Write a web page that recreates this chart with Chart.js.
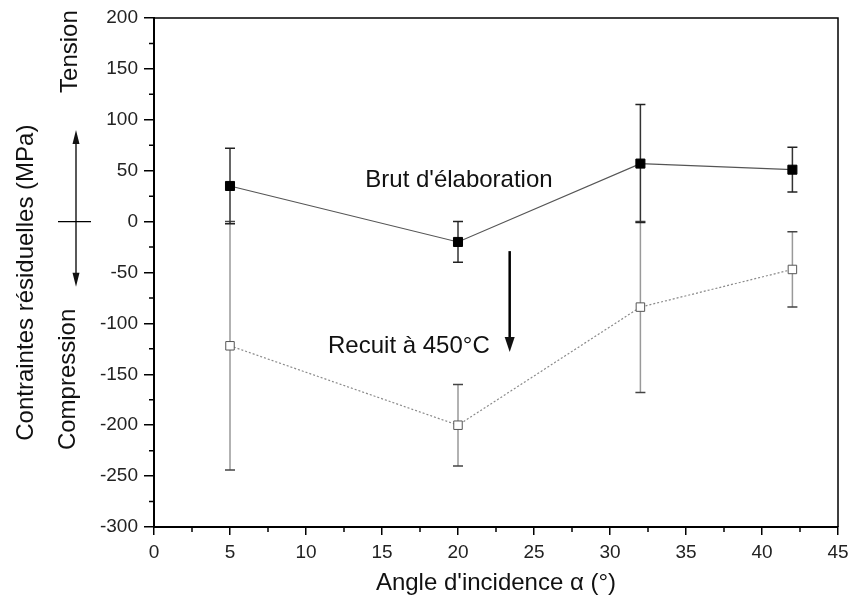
<!DOCTYPE html>
<html>
<head>
<meta charset="utf-8">
<script src="https://cdn.jsdelivr.net/npm/chart.js@4/dist/chart.umd.min.js"></script>
<style>
  html, body { margin: 0; padding: 0; background: #fff; }
  #wrap { width: 855px; height: 608px; }
</style>
</head>
<body>
<div id="wrap"><canvas id="stressChart" width="855" height="608"></canvas></div>
<script>
// data
const angles = [5, 20, 32, 42];
const brut = [35, -20, 57, 51];
const brutErr = [37, 20, 58, 22];
const recuit = [-122, -200, -84, -47];
const recuitErr = [122, 40, 84, 37];
const xTicks = [0, 5, 10, 15, 20, 25, 30, 35, 40, 45];
const yTicks = [-300, -250, -200, -150, -100, -50, 0, 50, 100, 150, 200];

const FONT = "'Liberation Sans', Arial, sans-serif";

function points(xs, ys) {
    return xs.map((x, i) => ({ x: x, y: ys[i] }));
}

// error bars, minor ticks, frame and the text annotations
const decorations = {
    id: 'decorations',
    beforeDatasetsDraw(chart) {
        const ctx = chart.ctx;
        const xs = chart.scales.x;
        const ys = chart.scales.y;
        const bars = [
            { vals: recuit, err: recuitErr, line: '#999', cap: '#444' },
            { vals: brut, err: brutErr, line: '#333', cap: '#222' }
        ];
        ctx.save();
        bars.forEach(b => {
            angles.forEach((a, i) => {
                const px = xs.getPixelForValue(a);
                const top = ys.getPixelForValue(b.vals[i] + b.err[i]);
                const bot = ys.getPixelForValue(b.vals[i] - b.err[i]);
                ctx.strokeStyle = b.line;
                ctx.lineWidth = 1.5;
                ctx.beginPath();
                ctx.moveTo(px, top);
                ctx.lineTo(px, bot);
                ctx.stroke();
                ctx.strokeStyle = b.cap;
                ctx.beginPath();
                ctx.moveTo(px - 5, top);
                ctx.lineTo(px + 5, top);
                ctx.moveTo(px - 5, bot);
                ctx.lineTo(px + 5, bot);
                ctx.stroke();
            });
        });
        ctx.restore();
    },
    afterDraw(chart) {
        const ctx = chart.ctx;
        const area = chart.chartArea;
        const xs = chart.scales.x;
        const ys = chart.scales.y;
        ctx.save();

        // frame top/right
        ctx.strokeStyle = '#000';
        ctx.lineWidth = 1.5;
        ctx.beginPath();
        ctx.moveTo(area.left, area.top);
        ctx.lineTo(area.right, area.top);
        ctx.lineTo(area.right, area.bottom);
        ctx.stroke();

        // minor ticks
        ctx.lineWidth = 1.5;
        ctx.beginPath();
        for (let v = 2.5; v < 45; v += 5) {
            const px = xs.getPixelForValue(v);
            ctx.moveTo(px, area.bottom);
            ctx.lineTo(px, area.bottom + 5);
        }
        for (let v = -275; v < 200; v += 50) {
            const py = ys.getPixelForValue(v);
            ctx.moveTo(area.left, py);
            ctx.lineTo(area.left - 5, py);
        }
        ctx.stroke();

        // annotations inside the plot
        ctx.fillStyle = '#111';
        ctx.font = '24px ' + FONT;
        ctx.textBaseline = 'alphabetic';
        ctx.textAlign = 'left';
        ctx.fillText("Brut d'élaboration", xs.getPixelForValue(13.9), ys.getPixelForValue(34));
        ctx.fillText('Recuit à 450°C', xs.getPixelForValue(11.45), ys.getPixelForValue(-129));

        // downward arrow
        const ax = xs.getPixelForValue(23.4);
        const aTop = ys.getPixelForValue(-29);
        const aBot = ys.getPixelForValue(-128);
        ctx.strokeStyle = '#000';
        ctx.lineWidth = 2.5;
        ctx.beginPath();
        ctx.moveTo(ax, aTop);
        ctx.lineTo(ax, aBot - 12);
        ctx.stroke();
        ctx.beginPath();
        ctx.moveTo(ax - 5, aBot - 15);
        ctx.lineTo(ax + 5, aBot - 15);
        ctx.lineTo(ax, aBot);
        ctx.closePath();
        ctx.fill();

        // left side: double arrow with cross at zero
        const lx = area.left - 78;
        const up = ys.getPixelForValue(90);
        const down = ys.getPixelForValue(-64);
        const zero = ys.getPixelForValue(0);
        ctx.lineWidth = 1.3;
        ctx.beginPath();
        ctx.moveTo(lx, up + 12);
        ctx.lineTo(lx, down - 12);
        ctx.moveTo(lx - 18, zero);
        ctx.lineTo(lx + 15, zero);
        ctx.stroke();
        ctx.beginPath();
        ctx.moveTo(lx, up);
        ctx.lineTo(lx - 3.5, up + 14);
        ctx.lineTo(lx + 3.5, up + 14);
        ctx.closePath();
        ctx.moveTo(lx, down);
        ctx.lineTo(lx - 3.5, down - 14);
        ctx.lineTo(lx + 3.5, down - 14);
        ctx.closePath();
        ctx.fill();

        // rotated labels
        const vText = (txt, x, y) => {
            ctx.save();
            ctx.translate(x, y);
            ctx.rotate(-Math.PI / 2);
            ctx.textAlign = 'center';
            ctx.textBaseline = 'middle';
            ctx.fillText(txt, 0, 0);
            ctx.restore();
        };
        ctx.font = '24px ' + FONT;
        vText('Tension', area.left - 84, ys.getPixelForValue(167));
        vText('Compression', area.left - 86, ys.getPixelForValue(-155));
        vText('Contraintes résiduelles (MPa)', area.left - 128, ys.getPixelForValue(-60));

        ctx.restore();
    }
};

new Chart(document.getElementById('stressChart'), {
    type: 'scatter',
    data: {
        datasets: [
            {
                label: 'Recuit à 450°C',
                data: points(angles, recuit),
                showLine: true,
                borderColor: '#8a8a8a',
                borderWidth: 1.2,
                borderDash: [2, 2],
                pointStyle: 'rect',
                pointRadius: 6,
                pointBackgroundColor: '#fff',
                pointBorderColor: '#555',
                pointBorderWidth: 1
            },
            {
                label: "Brut d'élaboration",
                data: points(angles, brut),
                showLine: true,
                borderColor: '#555',
                borderWidth: 1.2,
                pointStyle: 'rect',
                pointRadius: 6.4,
                pointBackgroundColor: '#000',
                pointBorderColor: '#000',
                pointBorderWidth: 1
            }
        ]
    },
    options: {
        responsive: false,
        animation: false,
        layout: { padding: { top: 18, right: 17, left: 0, bottom: 0 } },
        plugins: {
            legend: { display: false },
            tooltip: { enabled: false }
        },
        scales: {
            x: {
                type: 'linear',
                min: 0,
                max: 45,
                afterFit: s => { s.height = 81; },
                afterBuildTicks: s => { s.ticks = xTicks.map(v => ({ value: v })); },
                border: { color: '#000', width: 2 },
                grid: { drawOnChartArea: false, color: '#000', lineWidth: 1.5, tickLength: 8 },
                ticks: { color: '#222', padding: 6, font: { family: FONT, size: 19 } },
                title: {
                    display: true,
                    text: "Angle d'incidence α (°)",
                    color: '#111',
                    font: { family: FONT, size: 24 },
                    padding: { top: 0, bottom: 10 }
                }
            },
            y: {
                type: 'linear',
                min: -300,
                max: 200,
                afterFit: s => { s.width = 154; },
                afterBuildTicks: s => { s.ticks = yTicks.map(v => ({ value: v })); },
                border: { color: '#000', width: 2 },
                grid: { drawOnChartArea: false, color: '#000', lineWidth: 1.5, tickLength: 10 },
                ticks: { color: '#222', padding: 6, font: { family: FONT, size: 19 } }
            }
        }
    },
    plugins: [decorations]
});
</script>
</body>
</html>
